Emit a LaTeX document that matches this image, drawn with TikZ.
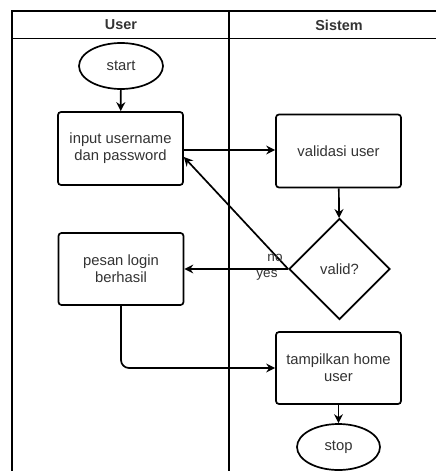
\documentclass[tikz,border=0pt]{standalone}
\usepackage{fontspec}
\setmainfont{Liberation Sans}
\usetikzlibrary{shapes.geometric,arrows.meta}
\begin{document}
\begin{tikzpicture}[x=1pt,y=-1pt,
  lane/.style={line width=1.7pt},
  stepbox/.style={draw,line width=1.7pt,rounded corners=3pt,minimum width=125pt,minimum height=73pt,align=center,text=black!80,font=\fontsize{14.8}{16.7}\selectfont,inner sep=0pt},
  term/.style={draw,ellipse,line width=1.7pt,minimum width=84pt,minimum height=46pt,inner sep=0pt,text=black!80,font=\fontsize{14.8}{16.7}\selectfont},
  decision/.style={draw,diamond,line width=1.7pt,minimum width=101pt,minimum height=101pt,inner sep=0pt,text=black!80,font=\fontsize{14.8}{16.7}\selectfont},
  flow/.style={line width=1.7pt,-{Stealth[length=9pt,width=9pt,inset=3pt]}},
  lbl/.style={font=\fontsize{13.5}{15}\selectfont,inner sep=0pt,text=black!80},
  hdr/.style={font=\bfseries\fontsize{14.4}{16}\selectfont,inner sep=0pt,text=black!80}]
\useasboundingbox (0,0) rectangle (436,471);
\fill[white] (0,0) rectangle (436,471);
% swimlane frame
\draw[lane] (436,11) -- (12,11) -- (12,471);
\draw[lane] (12,38.5) -- (436,38.5);
\draw[lane] (229,11) -- (229,471);
\node[hdr] (hUser) at (121,25) {User};
\node[hdr] (hSistem) at (339,25) {Sistem};
% nodes
\node[term] (start) at (121,66) {start};
\node[stepbox] (input) at (120.5,148.5) {input username\\dan password};
\node[stepbox] (valid) at (338.5,151) {validasi user};
\node[decision] (dec) at (339.5,269) {valid?};
\node[stepbox,minimum height=72pt] (pesan) at (121,269) {pesan login\\berhasil};
\node[stepbox,minimum height=72pt] (home) at (338.5,368) {tampilkan home\\user};
\node[term,minimum width=83pt] (stop) at (338.5,447) {stop};
% connectors
\draw[flow] (start) -- (input);
\draw[flow] (input.east |- 0,150) -- (valid.west |- 0,150);
\draw[flow] (valid) -- (dec);
\draw[flow] (dec.west) -- (pesan.east |- dec.west);
\draw[flow] (dec.west) -- (input.east |- 0,157);
\draw[flow,rounded corners=8pt] (pesan.south) |- (home.west);
\draw[flow] (home) -- (stop);
% branch labels
\node[lbl] (lno) at (275,258) {no};
\node[lbl] (lyes) at (267,275) {yes};
\end{tikzpicture}
\end{document}
